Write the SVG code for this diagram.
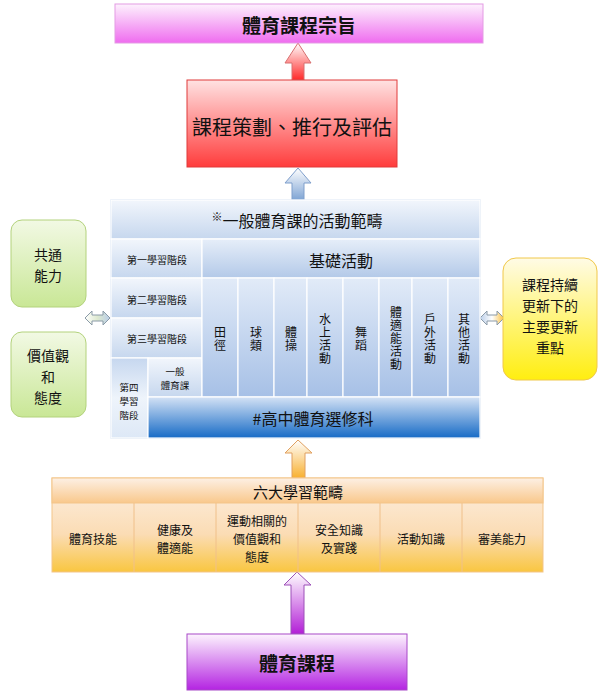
<svg xmlns="http://www.w3.org/2000/svg" width="605" height="700" viewBox="0 0 605 700">
<defs>
<linearGradient id="gMag" x1="0" y1="0" x2="0" y2="1"><stop offset="0" stop-color="#fdf2fd"/><stop offset="1" stop-color="#ef6cef"/></linearGradient>
<linearGradient id="gRed" x1="0" y1="0" x2="0" y2="1"><stop offset="0" stop-color="#ffe2e2"/><stop offset="1" stop-color="#ff3c3c"/></linearGradient>
<linearGradient id="gRedA" x1="0" y1="0" x2="0" y2="1"><stop offset="0" stop-color="#ffffff"/><stop offset="1" stop-color="#ff2a2a"/></linearGradient>
<linearGradient id="gBlueA" x1="0" y1="0" x2="0" y2="1"><stop offset="0" stop-color="#ffffff"/><stop offset="1" stop-color="#7ea4d4"/></linearGradient>
<linearGradient id="gBl1" x1="0" y1="0" x2="0" y2="1"><stop offset="0" stop-color="#f2f6fc"/><stop offset="1" stop-color="#c6d7ee"/></linearGradient>
<linearGradient id="gBl2" x1="0" y1="0" x2="0" y2="1"><stop offset="0" stop-color="#e6eef9"/><stop offset="1" stop-color="#b3c9e8"/></linearGradient>
<linearGradient id="gBlCol" x1="0" y1="0" x2="0" y2="1"><stop offset="0" stop-color="#e2ebf8"/><stop offset="1" stop-color="#a6c0e6"/></linearGradient>
<linearGradient id="gBl4" x1="0" y1="0" x2="0" y2="1"><stop offset="0" stop-color="#c6d7ef"/><stop offset="0.5" stop-color="#eef4fb"/><stop offset="1" stop-color="#dde8f6"/></linearGradient>
<linearGradient id="gBlDark" x1="0" y1="0" x2="0" y2="1"><stop offset="0" stop-color="#d4e2f5"/><stop offset="1" stop-color="#176bc6"/></linearGradient>
<linearGradient id="gGreen" x1="0" y1="0" x2="0" y2="1"><stop offset="0" stop-color="#f2f9e4"/><stop offset="1" stop-color="#c9e796"/></linearGradient>
<linearGradient id="gYel" x1="0" y1="0" x2="0" y2="1"><stop offset="0" stop-color="#fffbe6"/><stop offset="1" stop-color="#ffee10"/></linearGradient>
<linearGradient id="gGrayA" x1="0" y1="0" x2="1" y2="0"><stop offset="0" stop-color="#ffffff"/><stop offset="0.5" stop-color="#dde9cf"/><stop offset="1" stop-color="#b9cde8"/></linearGradient>
<linearGradient id="gOrgA2" x1="0" y1="0" x2="1" y2="0"><stop offset="0" stop-color="#b9cde8"/><stop offset="0.5" stop-color="#ffffff"/><stop offset="1" stop-color="#fac040"/></linearGradient>
<linearGradient id="gOrT" x1="0" y1="0" x2="0" y2="1"><stop offset="0" stop-color="#fdf0e4"/><stop offset="1" stop-color="#f9c88c"/></linearGradient>
<linearGradient id="gOrC" x1="0" y1="0" x2="0" y2="1"><stop offset="0" stop-color="#fdf0e4"/><stop offset="0.6" stop-color="#fbdcb4"/><stop offset="1" stop-color="#f9c640"/></linearGradient>
<linearGradient id="gOrA" x1="0" y1="0" x2="0" y2="1"><stop offset="0" stop-color="#ffffff"/><stop offset="1" stop-color="#f8b030"/></linearGradient>
<linearGradient id="gPurA" x1="0" y1="0" x2="0" y2="1"><stop offset="0" stop-color="#ffffff"/><stop offset="1" stop-color="#b21ed6"/></linearGradient>
<linearGradient id="gPur" x1="0" y1="0" x2="0" y2="1"><stop offset="0" stop-color="#fdf4fe"/><stop offset="1" stop-color="#b424e2"/></linearGradient>
</defs>
<style>
text{font-family:"Noto Sans CJK TC","Noto Sans CJK SC",sans-serif;fill:#111;text-anchor:middle;dominant-baseline:central}
.big{font-size:19px;font-weight:bold}
.mid{font-size:16px}
.sm{font-size:10px}
.xs{font-size:9.5px}
.cell{font-size:12px}
.vt{font-size:12px;writing-mode:vertical-rl;letter-spacing:1px}
.side{font-size:14px}
.bc{stroke:#ffffff;stroke-width:1.2}
</style>
<rect width="605" height="700" fill="#ffffff"/>

<g id="connectors">
<polygon points="298,43 311,63 304,63 304,80 292,80 292,63 285,63" fill="url(#gRedA)" stroke="#d87070" stroke-width="1"/>
<polygon points="298,168 311,183 304,183 304,200 292,200 292,183 285,183" fill="url(#gBlueA)" stroke="#7f9fcc" stroke-width="1"/>
<polygon points="298,440 312,453 305,453 305,478 292,478 292,453 285,453" fill="url(#gOrA)" stroke="#e0a060" stroke-width="1"/>
<polygon points="297,572 311,585 304,585 304,634 291,634 291,585 284,585" fill="url(#gPurA)" stroke="#9c50b8" stroke-width="1"/>
<polygon points="85,318 92,311 92,315 103,315 103,311 110,318 103,325 103,321 92,321 92,325" fill="url(#gGrayA)" stroke="#8a9aa8" stroke-width="1"/>
<polygon points="480,318 487,311 487,315 497,315 497,311 504,318 497,325 497,321 487,321 487,325" fill="url(#gOrgA2)" stroke="#8a9aa8" stroke-width="1"/>
</g>

<g id="aim">
<rect x="115" y="4" width="368" height="39" fill="url(#gMag)" stroke="#e49be4" stroke-width="1"/>
<text x="299" y="24" class="big">體育課程宗旨</text>
</g>

<g id="planning">
<rect x="187" y="80" width="210" height="87" fill="url(#gRed)" stroke="#e03a3a" stroke-width="1"/>
<text x="292" y="126" style="font-size:20px">課程策劃、推行及評估</text>
</g>

<g id="activity-scope">
<rect x="111" y="200" width="369" height="238" fill="#dce7f5" stroke="#a9c2e4" stroke-width="1"/>
<rect x="111" y="200" width="369" height="39" fill="url(#gBl1)" class="bc"/>
<text x="297" y="220" class="mid"><tspan style="font-size:11px" dy="-4">※</tspan><tspan dy="4">一般體育課的活動範疇</tspan></text>

<rect x="111" y="239" width="91" height="39" fill="url(#gBl1)" class="bc"/>
<text x="157" y="259" class="sm">第一學習階段</text>
<rect x="202" y="239" width="278" height="39" fill="url(#gBl2)" class="bc"/>
<text x="341" y="260" class="mid">基礎活動</text>

<rect x="111" y="278" width="91" height="40" fill="url(#gBl1)" class="bc"/>
<text x="157" y="299" class="sm">第二學習階段</text>
<rect x="111" y="318" width="91" height="40" fill="url(#gBl1)" class="bc"/>
<text x="157" y="338" class="sm">第三學習階段</text>

<rect x="111" y="358" width="37" height="80" fill="url(#gBl4)" class="bc"/>
<text class="xs"><tspan x="129" y="387">第四</tspan><tspan x="129" y="401">學習</tspan><tspan x="129" y="415">階段</tspan></text>
<rect x="148" y="358" width="54" height="39" fill="url(#gBl1)" class="bc"/>
<text class="xs"><tspan x="175" y="371">一般</tspan><tspan x="175" y="385">體育課</tspan></text>

<rect x="202" y="278" width="36" height="119" fill="url(#gBlCol)" class="bc"/>
<rect x="238" y="278" width="36" height="119" fill="url(#gBlCol)" class="bc"/>
<rect x="274" y="278" width="33" height="119" fill="url(#gBlCol)" class="bc"/>
<rect x="307" y="278" width="36" height="119" fill="url(#gBlCol)" class="bc"/>
<rect x="343" y="278" width="36" height="119" fill="url(#gBlCol)" class="bc"/>
<rect x="379" y="278" width="33" height="119" fill="url(#gBlCol)" class="bc"/>
<rect x="412" y="278" width="36" height="119" fill="url(#gBlCol)" class="bc"/>
<rect x="448" y="278" width="32" height="119" fill="url(#gBlCol)" class="bc"/>

<text class="vt" x="220" y="339">田徑</text>
<text class="vt" x="256" y="339">球類</text>
<text class="vt" x="291" y="339">體操</text>
<text class="vt" x="325" y="339">水上活動</text>
<text class="vt" x="361" y="339">舞蹈</text>
<text class="vt" x="396" y="339">體適能活動</text>
<text class="vt" x="430" y="339">戶外活動</text>
<text class="vt" x="464" y="339">其他活動</text>

<rect x="148" y="397" width="332" height="41" fill="url(#gBlDark)" class="bc"/>
<text x="313" y="418" class="mid">#高中體育選修科</text>
</g>

<g id="generic-skills">
<rect x="11" y="220" width="75" height="87" rx="11" fill="url(#gGreen)" stroke="#b3d27c" stroke-width="1"/>
<text class="side"><tspan x="48" y="254">共通</tspan><tspan x="48" y="275">能力</tspan></text>
</g>

<g id="values">
<rect x="11" y="332" width="75" height="85" rx="11" fill="url(#gGreen)" stroke="#b3d27c" stroke-width="1"/>
<text class="side"><tspan x="48" y="355">價值觀</tspan><tspan x="48" y="376">和</tspan><tspan x="48" y="397">態度</tspan></text>
</g>

<g id="updates">
<rect x="503" y="258" width="94" height="122" rx="13" fill="url(#gYel)" stroke="#f0c84a" stroke-width="1"/>
<text class="side"><tspan x="550" y="284">課程持續</tspan><tspan x="550" y="305">更新下的</tspan><tspan x="550" y="326">主要更新</tspan><tspan x="550" y="347">重點</tspan></text>
</g>

<g id="six-strands">
<rect x="52" y="478" width="491" height="94" fill="url(#gOrC)" stroke="#f3c58a" stroke-width="1"/>
<rect x="52" y="478" width="491" height="25" fill="url(#gOrT)" stroke="#f3c58a" stroke-width="1"/>
<text x="298" y="491" style="font-size:15px">六大學習範疇</text>
<g stroke="#f0c08a" stroke-width="1">
<line x1="134" y1="503" x2="134" y2="572"/>
<line x1="216" y1="503" x2="216" y2="572"/>
<line x1="298" y1="503" x2="298" y2="572"/>
<line x1="380" y1="503" x2="380" y2="572"/>
<line x1="462" y1="503" x2="462" y2="572"/>
</g>
<text x="93" y="538" class="cell">體育技能</text>
<text class="cell"><tspan x="175" y="529">健康及</tspan><tspan x="175" y="547">體適能</tspan></text>
<text class="cell"><tspan x="257" y="520">運動相關的</tspan><tspan x="257" y="538">價值觀和</tspan><tspan x="257" y="556">態度</tspan></text>
<text class="cell"><tspan x="339" y="529">安全知識</tspan><tspan x="339" y="547">及實踐</tspan></text>
<text x="421" y="538" class="cell">活動知識</text>
<text x="502" y="538" class="cell">審美能力</text>
</g>

<g id="pe-curriculum">
<rect x="187" y="634" width="220" height="56" fill="url(#gPur)" stroke="#a848c8" stroke-width="1"/>
<text x="297" y="662" class="big">體育課程</text>
</g>
</svg>
